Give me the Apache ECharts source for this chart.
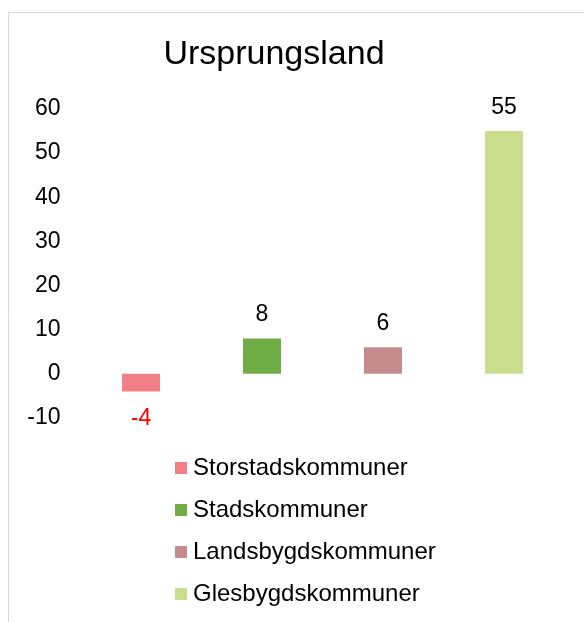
<!DOCTYPE html>
<html>
<head>
<meta charset="utf-8">
<script src="https://cdn.jsdelivr.net/npm/echarts@6/dist/echarts.min.js"></script>
<style>
  html, body { margin: 0; padding: 0; background: #fff; }
  #chart { width: 584px; height: 622px; }
</style>
</head>
<body>
<div id="chart"></div>
<script>
// data
var categories = ['Storstadskommuner', 'Stadskommuner', 'Landsbygdskommuner', 'Glesbygdskommuner'];
var values = [-4, 8, 6, 55];
var colors = ['#F08086', '#70AD47', '#C58B8D', '#C9DE8C'];
var yTicks = { min: -10, max: 60, step: 10 };

var chart = echarts.init(document.getElementById('chart'));

var series = [];
categories.forEach(function (name, i) {
    var data = categories.map(function (c, j) { return j === i ? values[i] : '-'; });
    var neg = values[i] < 0;
    series.push({
        name: name,
        type: 'bar',
        data: data,
        barWidth: 38,
        barGap: '-100%',
        itemStyle: { color: colors[i] },
        label: {
            show: true,
            position: neg ? 'bottom' : 'top',
            distance: neg ? 16 : 12,
            color: neg ? '#FF0000' : '#000',
            fontFamily: 'Liberation Sans, Arial, sans-serif',
            fontSize: 23
        }
    });
});

chart.setOption({
    animation: false,
    backgroundColor: '#fff',
    graphic: [{
        type: 'rect',
        shape: { x: 8.5, y: 12.5, width: 700, height: 700 },
        style: { fill: 'none', stroke: '#d9d9d9', lineWidth: 1 },
        silent: true
    }],
    title: {
        text: 'Ursprungsland',
        left: 269,
        textAlign: 'center',
        top: 33,
        textStyle: {
            fontFamily: 'Liberation Sans, Arial, sans-serif',
            fontSize: 34,
            fontWeight: 'normal',
            color: '#000'
        }
    },
    legend: {
        orient: 'vertical',
        left: 170,
        top: 451,
        itemWidth: 12,
        itemHeight: 12,
        itemGap: 18,
        icon: 'rect',
        textStyle: {
            fontFamily: 'Liberation Sans, Arial, sans-serif',
            fontSize: 24,
            lineHeight: 24,
            color: '#000',
            padding: [0, 0, 0, 1]
        },
        data: categories
    },
    grid: { left: 80.5, right: 19.5, top: 109, bottom: 204 },
    xAxis: {
        type: 'category',
        data: categories,
        show: false
    },
    yAxis: {
        type: 'value',
        min: yTicks.min,
        max: yTicks.max,
        interval: yTicks.step,
        axisLine: { show: false },
        axisTick: { show: false },
        splitLine: { show: false },
        axisLabel: {
            margin: 20,
            color: '#000',
            fontFamily: 'Liberation Sans, Arial, sans-serif',
            fontSize: 23
        }
    },
    series: series
});
</script>
</body>
</html>
